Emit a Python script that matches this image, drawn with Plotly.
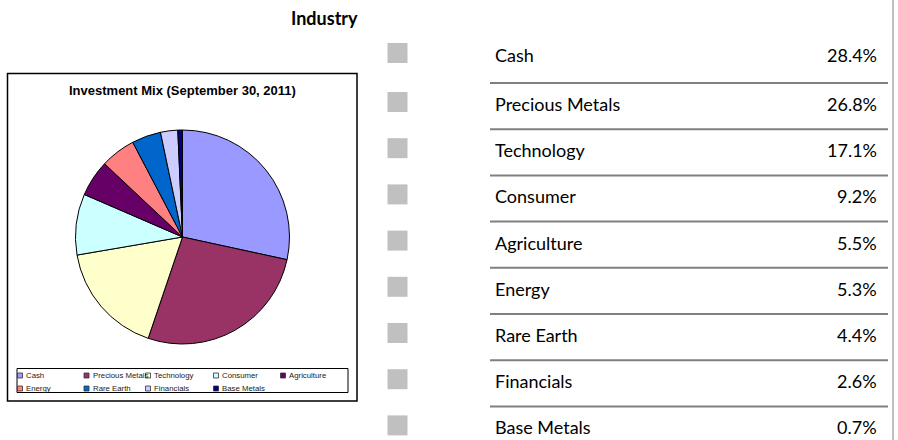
import plotly.graph_objects as go

# ---- data ----
categories = ["Cash", "Precious Metals", "Technology", "Consumer", "Agriculture",
              "Energy", "Rare Earth", "Financials", "Base Metals"]
weights = [28.4, 26.8, 17.1, 9.2, 5.5, 5.3, 4.4, 2.6, 0.7]
pie_title = "Investment Mix (September 30, 2011)"
table_title = "Industry"

# ---- styles ----
slice_colors = ["#9999FF", "#993366", "#FFFFCC", "#CCFFFF", "#660066",
                "#FF8080", "#0066CC", "#CCCCFF", "#000080"]

W, H = 898, 440


def px(x):
    return x / W


def py(y):
    return 1 - y / H


cx, cy, r = 182.5, 237, 107

fig = go.Figure()
fig.add_trace(go.Pie(
    labels=categories, values=weights, sort=False, direction="clockwise",
    rotation=0, textinfo="none", hoverinfo="label+percent",
    marker=dict(colors=slice_colors, line=dict(color="black", width=1)),
    domain=dict(x=[px(cx - r), px(cx + r)], y=[py(cy + r), py(cy - r)]),
    showlegend=False,
))

shapes = []
annotations = []

# chart frame
shapes.append(dict(type="rect", xref="paper", yref="paper",
                   x0=px(7.5), x1=px(357), y0=py(401), y1=py(73.5),
                   line=dict(color="black", width=1.5)))
annotations.append(dict(text="<b>" + pie_title + "</b>", xref="paper", yref="paper",
                        x=px(182.5), y=py(90), showarrow=False,
                        font=dict(family="Liberation Sans, Arial", size=13, color="black"),
                        xanchor="center", yanchor="middle"))

# legend box
shapes.append(dict(type="rect", xref="paper", yref="paper",
                   x0=px(17), x1=px(348), y0=py(392.5), y1=py(368.5),
                   line=dict(color="black", width=1)))
col_x = [20, 86.5, 148, 216, 283]
row_y = [375.5, 388.5]
for i, (name, col) in enumerate(zip(categories, slice_colors)):
    rx = col_x[i % 5]
    ry = row_y[i // 5]
    shapes.append(dict(type="rect", xref="paper", yref="paper",
                       x0=px(rx - 2.5), x1=px(rx + 2.5), y0=py(ry + 2.5), y1=py(ry - 2.5),
                       fillcolor=col, line=dict(color="#333333", width=0.8)))
    annotations.append(dict(text=name, xref="paper", yref="paper",
                            x=px(rx + 4), y=py(ry), showarrow=False,
                            xanchor="left", yanchor="middle",
                            font=dict(family="Liberation Sans, Arial", size=7.8, color="#222222")))

# table title
annotations.append(dict(text="<b>" + table_title + "</b>", xref="paper", yref="paper",
                        x=px(324.5), y=py(18), showarrow=False,
                        xanchor="center", yanchor="middle",
                        font=dict(family="Lato, Carlito, Calibri", size=18, color="black")))

# right border
shapes.append(dict(type="line", xref="paper", yref="paper",
                   x0=px(893), x1=px(893), y0=0, y1=1,
                   line=dict(color="#808080", width=1)))

line0, pitch = 83, 46.2
for i, (name, val) in enumerate(zip(categories, weights)):
    ty = 55 if i == 0 else line0 + pitch * (i - 1) + 21
    # grey square
    shapes.append(dict(type="rect", xref="paper", yref="paper",
                       x0=px(387.5), x1=px(407.5), y0=py(ty + 8), y1=py(ty - 12),
                       fillcolor="#C0C0C0", line=dict(width=0)))
    annotations.append(dict(text=name, xref="paper", yref="paper",
                            x=px(493), y=py(ty), showarrow=False,
                            xanchor="left", yanchor="middle",
                            font=dict(family="Lato, Carlito, Calibri", size=18, color="black")))
    annotations.append(dict(text=f"{val:.1f}%", xref="paper", yref="paper",
                            x=px(879), y=py(ty), showarrow=False,
                            xanchor="right", yanchor="middle",
                            font=dict(family="Lato, Carlito, Calibri", size=18, color="black")))
    if i < len(categories) - 1:
        ly = line0 + pitch * i
        shapes.append(dict(type="line", xref="paper", yref="paper",
                           x0=px(490), x1=px(888), y0=py(ly), y1=py(ly),
                           line=dict(color="#808080", width=2)))

fig.update_layout(
    width=W, height=H, margin=dict(l=0, r=0, t=0, b=0),
    paper_bgcolor="white", plot_bgcolor="white",
    shapes=shapes, annotations=annotations, showlegend=False,
)

fig.write_html("out.html", config={"displayModeBar": False},
               post_script="document.body.style.margin='0px';document.body.style.overflow='hidden';")
